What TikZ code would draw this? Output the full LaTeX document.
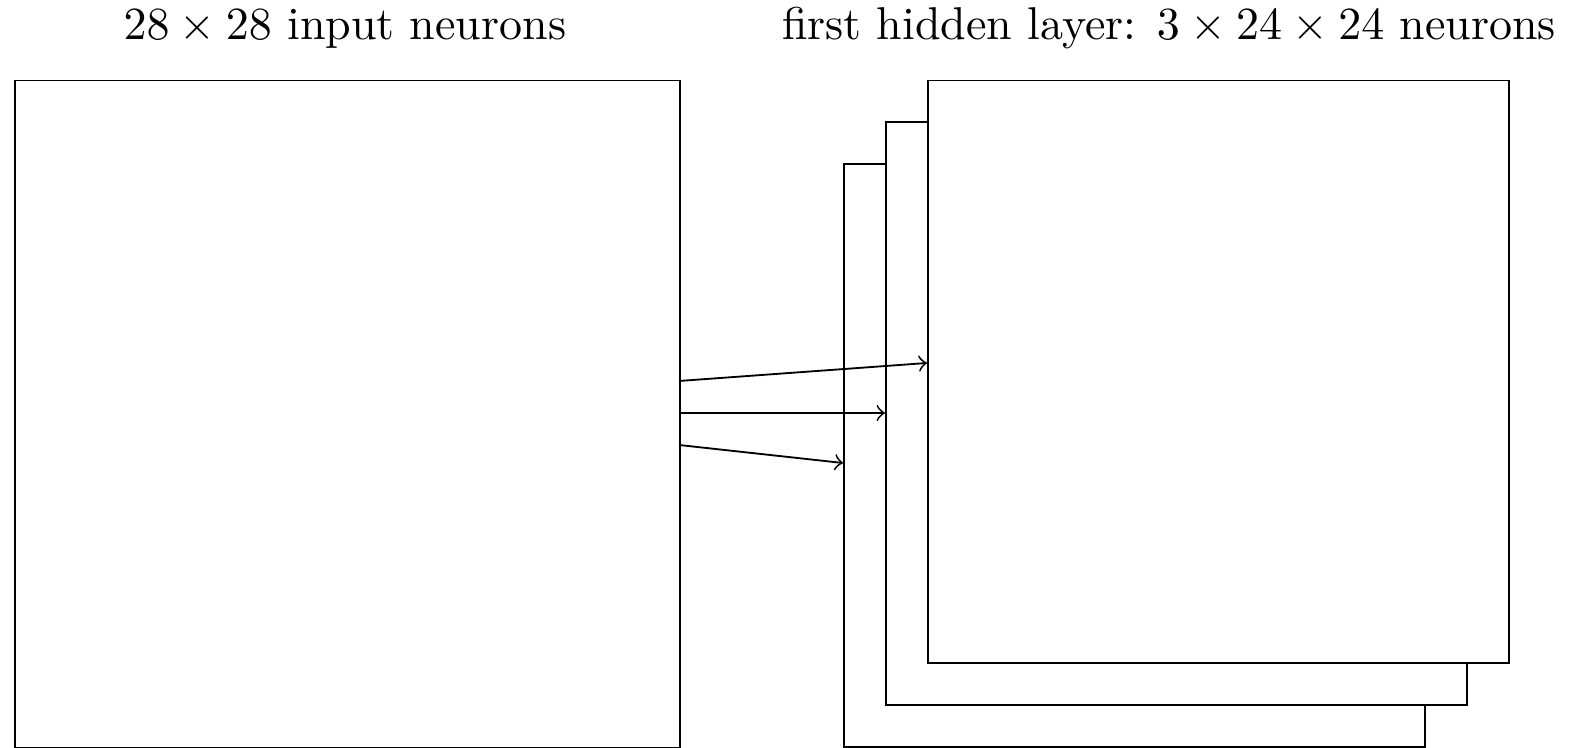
\documentclass[tikz,border=0pt]{standalone}
\usetikzlibrary{calc}
\begin{document}
\begin{tikzpicture}[x=0.2174pt,y=-0.2174pt,>=to,line width=0.4pt]
\useasboundingbox (0,0) rectangle (1580,748);
\tikzset{
  inbox/.style={draw,fill=white,inner sep=0pt,anchor=north west,minimum width=144.6pt,minimum height=145pt},
  hidbox/.style={draw,fill=white,inner sep=0pt,anchor=north west,minimum width=126.4pt,minimum height=126.7pt},
  lbl/.style={anchor=base,inner sep=0pt,font=\fontsize{10}{12}\selectfont},
  conn/.style={->}
}
\node[inbox] (in) at (14,79.6) {};
\node[hidbox] (h3) at (843,163) {};
\node[hidbox] (h2) at (885,121.5) {};
\node[hidbox] (h1) at (927,79.6) {};
\node[lbl] (t1) at (345,40) {$28\times 28$ input neurons};
\node[lbl] (t2) at (1169,40) {first hidden layer: $3\times 24\times 24$ neurons};
\coordinate (a1) at (679,381);
\coordinate (a2) at (679,413);
\coordinate (a3) at (679,445);
\coordinate (b1) at (927,363);
\coordinate (b2) at (885,413);
\coordinate (b3) at (843,463);
\draw[conn] (a1) -- (b1);
\draw[conn] (a2) -- (b2);
\draw[conn] (a3) -- (b3);
\end{tikzpicture}
\end{document}
